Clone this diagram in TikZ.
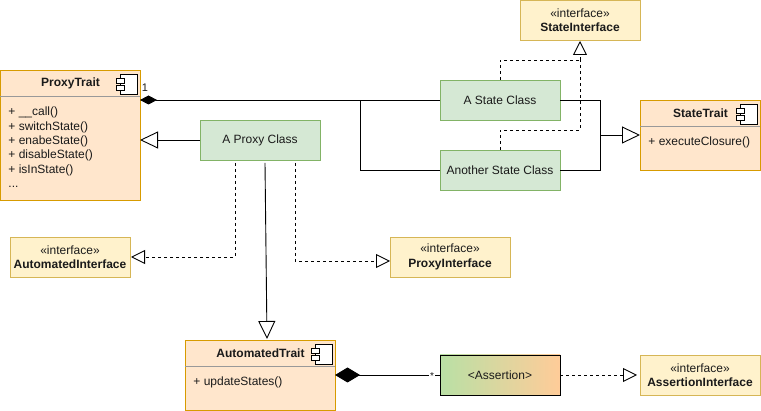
\documentclass[tikz,border=0pt]{standalone}
\usepackage{fontspec}
\setmainfont{Liberation Sans}
\usepackage{xcolor}
\usetikzlibrary{arrows.meta, positioning}
\definecolor{traitfill}{HTML}{FFE6CC}
\definecolor{traitline}{HTML}{D79B00}
\definecolor{classfill}{HTML}{D5E8D4}
\definecolor{classline}{HTML}{82B366}
\definecolor{ifacefill}{HTML}{FFF2CC}
\definecolor{ifaceline}{HTML}{D6B656}
\definecolor{textcol}{HTML}{1A1A1A}
\definecolor{assertleft}{HTML}{B9E0A5}
\definecolor{assertright}{HTML}{FFCC99}
\tikzset{
  compicon/.pic={
    \draw[fill=white] (-17,0) rectangle (0,20);
    \draw[fill=white] (-21,4) rectangle (-13,9);
    \draw[fill=white] (-21,11) rectangle (-13,16);
  }
}
\begin{document}
\begin{tikzpicture}[
  x=1pt, y=-1pt,
  font=\fontsize{12}{14.4}\selectfont,
  text=textcol,
  line width=0.9pt,
  box/.style={draw, outer sep=0pt, inner sep=0pt, anchor=north west, align=center},
  trait/.style={box, draw=traitline, fill=traitfill},
  cls/.style={box, draw=classline, fill=classfill, minimum width=120pt, minimum height=40pt},
  iface/.style={box, draw=ifaceline, fill=ifacefill, minimum width=120pt, minimum height=40pt},
  title/.style={font=\fontsize{12}{14.4}\selectfont\bfseries},
  members/.style={anchor=north west, inner sep=0pt, align=left},
  sep/.style={draw=black!40},
  link/.style={draw=black},
  real/.style={link, dashed, dash pattern=on 3pt off 3pt},
  bigtri/.style={-{Triangle[open, length=18pt, width=17pt]}},
  smalltri/.style={-{Triangle[open, length=14pt, width=14pt]}}
]
\useasboundingbox (0,0) rectangle (761,411);
% traits
\node[trait, minimum width=140pt, minimum height=130pt] (proxytrait) at (0,70) {};
\node[trait, minimum width=120pt, minimum height=70pt] (statetrait) at (640,100) {};
\node[trait, minimum width=150pt, minimum height=70pt] (autotrait) at (185,340) {};
\foreach \t/\txt/\x/\y in {proxytrait/ProxyTrait/70.5/83, statetrait/StateTrait/700.5/113, autotrait/AutomatedTrait/260.5/353} {
  \node[title] (\t-name) at (\x,\y) {\txt};
}
\draw[sep] (0,96) -- (140,96);
\draw[sep] (640,126) -- (760,126);
\draw[sep] (185,366) -- (335,366);
\pic[line width=0.8pt] at (137,74) {compicon};
\pic[line width=0.8pt] at (757,104) {compicon};
\pic[line width=0.8pt] at (332,344) {compicon};
\node[members] (proxymembers) at (8,106.5) {+ \_\_call()\\+ switchState()\\+ enabeState()\\+ disableState()\\+ isInState()\\...};
\node[members] (statemembers) at (648,136) {+ executeClosure()};
\node[members] (automembers) at (193,376.5) {+ updateStates()};
% classes
\foreach \c/\txt/\x/\y in {proxyclass/A Proxy Class/200/120, stateclass/A State Class/440/80, otherclass/Another State Class/440/150} {
  \node[cls] (\c) at (\x,\y) {\txt};
}
% interfaces
\foreach \i/\txt/\x/\y in {stateiface/StateInterface/520/0, autoiface/AutomatedInterface/10/237, proxyiface/ProxyInterface/390/237, assertiface/AssertionInterface/640/355} {
  \node[iface] (\i) at (\x,\y) {«interface»\\\textbf{\txt}};
}
\node[box, draw=black, left color=assertleft, right color=assertright, minimum width=120pt, minimum height=40pt] (assertion) at (440,355) {<Assertion>};
% free ends
\coordinate (joinleft) at (360,100);
\coordinate (joinright) at (600,135);
\coordinate (joindash) at (580,60);
\coordinate (otherbend) at (580,130);
\coordinate (autostart) at (265,163);
\coordinate (autotip) at (267,339);
\coordinate (ifacestart) at (235,163);
\coordinate (ifacetip) at (131,257);
\coordinate (pifacestart) at (295,163);
\coordinate (pifacetip) at (390,261);
\coordinate (statetip) at (640,135);
\coordinate (asserttip) at (637,375);
\coordinate (statedash) at (580,41);
% links
\draw[link, {Diamond[length=17pt, width=9pt]}-] (proxytrait.east |- stateclass.west) -- (stateclass.west);
\node[inner sep=0pt, font=\fontsize{11}{12}\selectfont] (one) at (145,88) {1};
\draw[link] (otherclass.west) -| (joinleft);
\draw[link, bigtri] (proxyclass.west) -- (proxytrait.east |- proxyclass.west);
\draw[link, bigtri] (autostart) -- (autotip);
\draw[real, smalltri] (ifacestart) |- (ifacetip);
\draw[real, smalltri] (pifacestart) |- (pifacetip);
\draw[real] (stateclass.north) |- (joindash);
\draw[real] (otherclass.north) |- (otherbend) -- (joindash);
\draw[real, smalltri] (joindash) -- (statedash);
\draw[link] (stateclass.east) -| (joinright);
\draw[link] (otherclass.east) -| (joinright);
\draw[link, bigtri] (joinright) -- (statetip);
\draw[link, {Diamond[length=25pt, width=15pt]}-] (autotrait.east) -- (assertion.west);
\node[inner sep=1pt, font=\fontsize{10}{10}\selectfont, fill=white] (many) at (432,376.5) {*};
\draw[real, smalltri] (assertion.east) -- (asserttip);
\end{tikzpicture}
\end{document}
